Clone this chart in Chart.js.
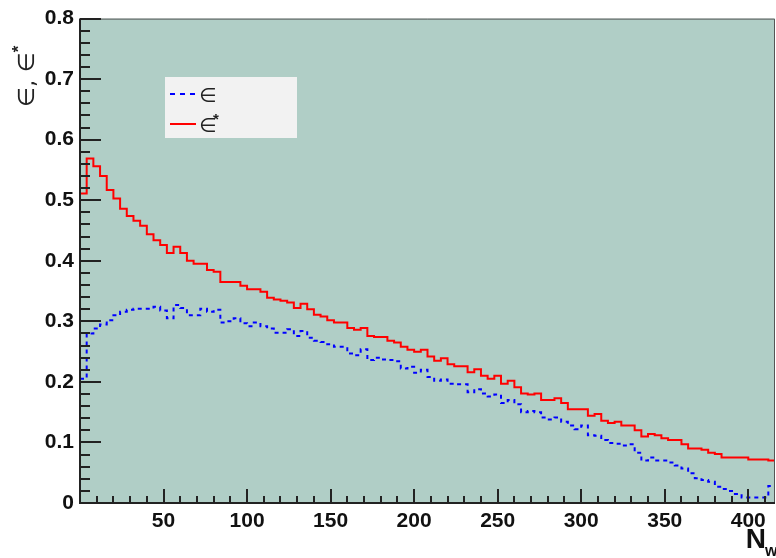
<!DOCTYPE html>
<html>
<head>
<meta charset="utf-8">
<script src="https://cdn.jsdelivr.net/npm/chart.js@4.4.0/dist/chart.umd.min.js"></script>
<style>
  html, body { margin: 0; padding: 0; background: #fff; }
  #wrap { width: 776px; height: 558px; }
</style>
</head>
<body>
<div id="wrap"><canvas id="effChart" width="776" height="558"></canvas></div>
<script>
// histogram binning along N_w
const binStart = 0;
const binWidth = 4;

// epsilon (blue, dashed) - one value per bin
const epsValues = [
  0.205, 0.280, 0.288, 0.295, 0.302, 0.310, 0.316, 0.319, 0.321, 0.321,
  0.321, 0.324, 0.318, 0.305, 0.327, 0.322, 0.310, 0.310, 0.321, 0.316,
  0.319, 0.298, 0.300, 0.305, 0.297, 0.292, 0.298, 0.292, 0.288, 0.281,
  0.281, 0.287, 0.276, 0.284, 0.273, 0.268, 0.266, 0.262, 0.258, 0.258,
  0.247, 0.244, 0.254, 0.236, 0.240, 0.237, 0.236, 0.234, 0.222, 0.225,
  0.215, 0.220, 0.208, 0.202, 0.204, 0.197, 0.196, 0.196, 0.183, 0.188,
  0.181, 0.176, 0.179, 0.165, 0.170, 0.163, 0.150, 0.152, 0.150, 0.141,
  0.138, 0.141, 0.134, 0.128, 0.122, 0.128, 0.112, 0.111, 0.104, 0.099,
  0.098, 0.095, 0.097, 0.083, 0.070, 0.075, 0.070, 0.070, 0.067, 0.062,
  0.057, 0.049, 0.041, 0.038, 0.035, 0.027, 0.023, 0.020, 0.015, 0.009,
  0.009, 0.009, 0.009, 0.028
];

// epsilon* (red, solid)
const epsStarValues = [
  0.511, 0.569, 0.556, 0.540, 0.517, 0.503, 0.486, 0.474, 0.466, 0.458,
  0.444, 0.434, 0.426, 0.413, 0.423, 0.413, 0.400, 0.395, 0.395, 0.385,
  0.382, 0.365, 0.365, 0.365, 0.359, 0.353, 0.353, 0.349, 0.339, 0.336,
  0.334, 0.331, 0.322, 0.329, 0.320, 0.311, 0.308, 0.302, 0.298, 0.298,
  0.289, 0.286, 0.289, 0.276, 0.274, 0.274, 0.268, 0.265, 0.258, 0.253,
  0.250, 0.253, 0.242, 0.235, 0.239, 0.229, 0.226, 0.226, 0.216, 0.221,
  0.210, 0.205, 0.210, 0.197, 0.202, 0.191, 0.181, 0.179, 0.181, 0.170,
  0.170, 0.173, 0.165, 0.155, 0.155, 0.155, 0.144, 0.147, 0.136, 0.132,
  0.134, 0.128, 0.128, 0.120, 0.110, 0.114, 0.112, 0.107, 0.104, 0.104,
  0.097, 0.090, 0.090, 0.088, 0.083, 0.081, 0.075, 0.075, 0.075, 0.075,
  0.072, 0.072, 0.072, 0.070
];

const xTickLabels = [50, 100, 150, 200, 250, 300, 350, 400];
const xMinorTicks = [10, 20, 30, 40, 60, 70, 80, 90, 110, 120, 130, 140, 160, 170, 180, 190,
  210, 220, 230, 240, 260, 270, 280, 290, 310, 320, 330, 340, 360, 370, 380, 390, 410];
const yTickLabels = [0, 0.1, 0.2, 0.3, 0.4, 0.5, 0.6, 0.7, 0.8];
const yMinorStep = 0.02;

const xMax = binStart + binWidth * epsValues.length;

// bin values -> step points (left edges + closing right edge)
function toSteps(values) {
  const pts = values.map((v, i) => ({ x: binStart + i * binWidth, y: v }));
  pts.push({ x: binStart + values.length * binWidth, y: values[values.length - 1] });
  return pts;
}

const frameBg = '#b0cec6';
const tickFont = { family: 'Liberation Sans', size: 21, weight: 'bold' };

// background, ticks inside the frame, legend and axis titles (ROOT look)
const rootFrame = {
  id: 'rootFrame',
  beforeDraw(chart) {
    const { ctx, chartArea: a } = chart;
    ctx.save();
    ctx.fillStyle = '#fff';
    ctx.fillRect(0, 0, chart.width, chart.height);
    ctx.fillStyle = frameBg;
    ctx.fillRect(a.left, a.top, a.right - a.left, a.bottom - a.top);
    ctx.restore();
  },
  afterDraw(chart) {
    const { ctx, chartArea: a, scales } = chart;
    const xs = scales.x, ys = scales.y;
    ctx.save();

    // frame
    ctx.strokeStyle = '#555';
    ctx.lineWidth = 1;
    ctx.beginPath();
    ctx.moveTo(a.left, a.top + 0.5);
    ctx.lineTo(a.right - 0.5, a.top + 0.5);
    ctx.lineTo(a.right - 0.5, a.bottom);
    ctx.stroke();

    ctx.strokeStyle = '#222';
    ctx.lineWidth = 2;
    ctx.beginPath();
    ctx.moveTo(a.left, a.top);
    ctx.lineTo(a.left, a.bottom);
    ctx.lineTo(a.right, a.bottom);
    ctx.stroke();

    // y ticks
    ctx.lineWidth = 2;
    ctx.beginPath();
    for (let k = 0; k <= Math.round(0.8 / yMinorStep); k++) {
      const v = k * yMinorStep;
      const py = Math.round(ys.getPixelForValue(v));
      const major = k % 5 === 0;
      ctx.moveTo(a.left, py);
      ctx.lineTo(a.left + (major ? 21 : 10), py);
    }
    // x ticks
    xTickLabels.forEach(v => {
      const px = Math.round(xs.getPixelForValue(v));
      ctx.moveTo(px, a.bottom);
      ctx.lineTo(px, a.bottom - 14);
    });
    xMinorTicks.forEach(v => {
      const px = Math.round(xs.getPixelForValue(v));
      ctx.moveTo(px, a.bottom);
      ctx.lineTo(px, a.bottom - 7);
    });
    ctx.stroke();

    // legend box
    ctx.fillStyle = '#f2f2f2';
    ctx.fillRect(165, 77, 132, 61);
    ctx.lineWidth = 2;
    ctx.strokeStyle = '#0000ff';
    ctx.setLineDash([5, 5]);
    ctx.beginPath();
    ctx.moveTo(170, 94);
    ctx.lineTo(196, 94);
    ctx.stroke();
    ctx.setLineDash([]);
    ctx.strokeStyle = '#ff0000';
    ctx.beginPath();
    ctx.moveTo(170, 124);
    ctx.lineTo(196, 124);
    ctx.stroke();

    ctx.fillStyle = '#222';
    ctx.textAlign = 'left';
    ctx.textBaseline = 'alphabetic';
    ctx.font = '20px "DejaVu Sans"';
    ctx.fillText('\u2208', 199, 102);
    ctx.fillText('\u2208', 199, 132);
    ctx.font = 'bold 15px "Liberation Sans"';
    ctx.fillText('*', 213, 124);

    // y title
    ctx.save();
    ctx.translate(34, 107);
    ctx.rotate(-Math.PI / 2);
    ctx.font = '23px "DejaVu Sans"';
    const main = '\u2208, \u2208';
    ctx.fillText(main, 0, 0);
    const w = ctx.measureText(main).width;
    ctx.font = 'bold 17px "Liberation Sans"';
    ctx.fillText('*', w, -10);
    ctx.restore();

    // x title N_w
    ctx.fillStyle = '#111';
    ctx.font = 'bold 28px "Liberation Sans"';
    ctx.textAlign = 'right';
    ctx.fillText('N', 766, 548);
    ctx.textAlign = 'left';
    ctx.font = 'bold 16px "Liberation Sans"';
    ctx.fillText('w', 765, 556);

    ctx.restore();
  }
};

new Chart(document.getElementById('effChart'), {
  type: 'line',
  data: {
    datasets: [
      {
        label: '\u2208',
        data: toSteps(epsValues),
        borderColor: '#0000ff',
        borderWidth: 2,
        borderDash: [4, 4],
        stepped: 'before',
        pointRadius: 0,
        fill: false
      },
      {
        label: '\u2208*',
        data: toSteps(epsStarValues),
        borderColor: '#ff0000',
        borderWidth: 2,
        stepped: 'before',
        pointRadius: 0,
        fill: false
      }
    ]
  },
  options: {
    responsive: false,
    devicePixelRatio: 1,
    animation: false,
    layout: { padding: { top: 17, right: 1, left: 0, bottom: 0 } },
    plugins: { legend: { display: false }, tooltip: { enabled: false } },
    scales: {
      x: {
        type: 'linear',
        min: binStart,
        max: xMax,
        grid: { display: false, drawTicks: false },
        border: { display: false },
        afterFit: s => { s.height = 55; },
        afterBuildTicks: s => { s.ticks = xTickLabels.map(v => ({ value: v })); },
        ticks: { font: tickFont, color: '#111', padding: 6, maxRotation: 0, autoSkip: false }
      },
      y: {
        min: 0,
        max: 0.8,
        grid: { display: false, drawTicks: false },
        border: { display: false },
        afterFit: s => { s.width = 80; },
        afterBuildTicks: s => { s.ticks = yTickLabels.map(v => ({ value: v })); },
        ticks: {
          font: tickFont,
          color: '#111',
          padding: 6,
          callback: v => (v === 0 ? '0' : v.toFixed(1))
        }
      }
    }
  },
  plugins: [rootFrame]
});
</script>
</body>
</html>
